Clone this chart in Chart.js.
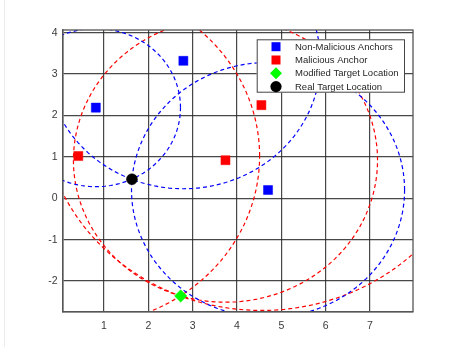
<!DOCTYPE html>
<html>
<head>
<meta charset="utf-8">
<script src="https://cdn.jsdelivr.net/npm/chart.js@4.4.1/dist/chart.umd.min.js"></script>
<style>
  html, body { margin: 0; padding: 0; background: #fff; }
  #wrap { position: relative; width: 453px; height: 347px; }
  #wrap canvas { position: absolute; left: 0; top: 0; }
  #edge { position: absolute; left: 4px; top: 0; width: 1px; height: 347px; background: #ececec; }
</style>
</head>
<body>
<div id="wrap"><canvas id="c" width="453" height="347"></canvas><div id="edge"></div></div>
<script>
// Series names
const seriesNames = ['Non-Malicious Anchors', 'Malicious Anchor', 'Modified Target Location', 'Real Target Location'];

// Honest anchors and their measured ranges to the target
const honestX = [0.815, 2.79, 4.70];
const honestY = [2.19, 3.32, 0.20];
const honestRanges = [1.91, 3.09, 3.08];

// Malicious anchors and the falsified ranges they report
const maliciousX = [0.42, 3.74, 4.55];
const maliciousY = [1.02, 0.92, 2.25];
const maliciousRanges = [4.09, 3.43, 4.96];

// Target positions
const modifiedTargetX = [2.73];
const modifiedTargetY = [-2.36];
const realTargetX = [1.63];
const realTargetY = [0.46];

// Axis ticks and limits
const xTicks = [1, 2, 3, 4, 5, 6, 7];
const yTicks = [-2, -1, 0, 1, 2, 3, 4];
const xLimits = [0.068, 7.97];
const yLimits = [-2.74, 4.065];

const FONT = '"Liberation Sans", Arial, Helvetica, sans-serif';

function pts(xs, ys) { return xs.map((x, i) => ({ x: x, y: ys[i] })); }

// Range circle around an anchor, traced as a closed polyline
function rangeCircle(cx, cy, r) {
  const out = [];
  for (let a = 0; a <= 360; a += 2) {
    const t = a * Math.PI / 180;
    out.push({ x: cx + r * Math.cos(t), y: cy + r * Math.sin(t) });
  }
  return out;
}

function circleDataset(cx, cy, r, color) {
  return {
    label: '', data: rangeCircle(cx, cy, r), showLine: true, fill: false,
    borderColor: color, borderWidth: 1.2, borderDash: [4, 3], tension: 0,
    pointRadius: 0, pointHoverRadius: 0, order: 2
  };
}

const datasets = [
  { label: seriesNames[0], data: pts(honestX, honestY), pointStyle: 'rect', pointRadius: 6.4,
    backgroundColor: '#0000ff', borderColor: '#0000ff', borderWidth: 0.5, order: 0 },
  { label: seriesNames[1], data: pts(maliciousX, maliciousY), pointStyle: 'rect', pointRadius: 6.4,
    backgroundColor: '#ff0000', borderColor: '#ff0000', borderWidth: 0.5, order: 0 },
  { label: seriesNames[2], data: pts(modifiedTargetX, modifiedTargetY), pointStyle: 'rectRot', pointRadius: 6.2,
    backgroundColor: '#00ff00', borderColor: '#00ff00', borderWidth: 0.5, order: 0 },
  { label: seriesNames[3], data: pts(realTargetX, realTargetY), pointStyle: 'circle', pointRadius: 5.5,
    backgroundColor: '#000000', borderColor: '#000000', borderWidth: 0.5, order: 0 }
];
honestX.forEach((x, i) => datasets.push(circleDataset(x, honestY[i], honestRanges[i], '#0000ff')));
maliciousX.forEach((x, i) => datasets.push(circleDataset(x, maliciousY[i], maliciousRanges[i], '#ff0000')));

// Top/right frame of the axes
const frame = {
  id: 'frame',
  afterDatasetsDraw(chart) {
    const { ctx, chartArea: a } = chart;
    ctx.save();
    ctx.strokeStyle = '#555';
    ctx.lineWidth = 1.3;
    ctx.strokeRect(a.left, a.top, a.right - a.left, a.bottom - a.top);
    ctx.restore();
  }
};

// Boxed legend in the upper right of the axes
const boxLegend = {
  id: 'boxLegend',
  afterDraw(chart) {
    const ctx = chart.ctx;
    const a = chart.chartArea;
    const x0 = a.right - 8, y0 = a.top + 9.3;
    const w = 148.3, h = 53.4;
    const left = x0 - w;
    ctx.save();
    ctx.fillStyle = '#fff';
    ctx.fillRect(left, y0, w, h);
    ctx.strokeStyle = '#444';
    ctx.lineWidth = 1;
    ctx.strokeRect(left + 0.5, y0 + 0.5, w - 1, h - 1);
    const rowH = 13.3;
    const mx = left + 19.3, tx = left + 38.3;
    ctx.font = '9.5px ' + FONT;
    ctx.textBaseline = 'middle';
    ctx.textAlign = 'left';
    for (let i = 0; i < 4; i++) {
      const ds = chart.data.datasets[i];
      const cy = y0 + 7.4 + i * rowH;
      ctx.fillStyle = ds.backgroundColor;
      if (ds.pointStyle === 'rect') {
        ctx.fillRect(mx - 4.5, cy - 4.5, 9, 9);
      } else if (ds.pointStyle === 'rectRot') {
        ctx.beginPath();
        ctx.moveTo(mx, cy - 6); ctx.lineTo(mx + 6, cy); ctx.lineTo(mx, cy + 6); ctx.lineTo(mx - 6, cy);
        ctx.closePath(); ctx.fill();
      } else {
        ctx.beginPath(); ctx.arc(mx, cy, 5.6, 0, Math.PI * 2); ctx.fill();
      }
      ctx.fillStyle = '#262626';
      ctx.fillText(ds.label, tx, cy + 0.5);
    }
    ctx.restore();
  }
};

new Chart(document.getElementById('c'), {
  type: 'scatter',
  data: { datasets },
  plugins: [frame, boxLegend],
  options: {
    responsive: false,
    animation: false,
    events: [],
    layout: { padding: { left: 0, right: 40, top: 30, bottom: 0 } },
    plugins: { legend: { display: false }, tooltip: { enabled: false } },
    scales: {
      x: {
        type: 'linear', min: xLimits[0], max: xLimits[1],
        afterBuildTicks: s => { s.ticks = xTicks.map(v => ({ value: v })); },
        afterFit: s => { s.height = 35.3; },
        ticks: { includeBounds: false, padding: 8, color: '#3a3a3a', font: { family: FONT, size: 10.5 }, maxRotation: 0 },
        grid: { color: 'rgba(40,40,40,0.85)', lineWidth: 1.2, drawTicks: false },
        border: { display: true, color: '#666', width: 1.5 }
      },
      y: {
        type: 'linear', min: yLimits[0], max: yLimits[1],
        afterBuildTicks: s => { s.ticks = yTicks.map(v => ({ value: v })); },
        afterFit: s => { s.width = 62.7; },
        ticks: { includeBounds: false, padding: 5, color: '#3a3a3a', font: { family: FONT, size: 10.5 } },
        grid: { color: 'rgba(40,40,40,0.85)', lineWidth: 1.2, drawTicks: false },
        border: { display: true, color: '#666', width: 1.5 }
      }
    }
  }
});
</script>
</body>
</html>
